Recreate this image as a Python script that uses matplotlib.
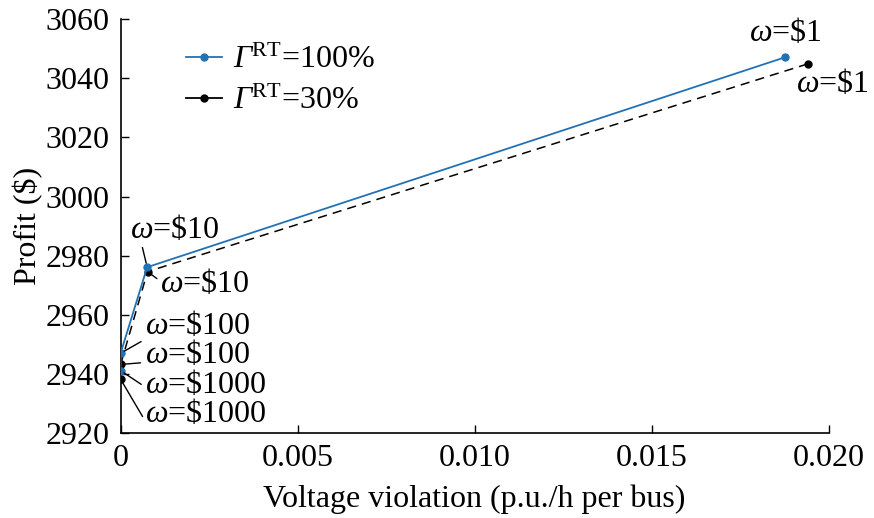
import matplotlib
matplotlib.use("Agg")
import matplotlib.pyplot as plt
from matplotlib.lines import Line2D

plt.rcParams['font.family'] = ['Liberation Serif', 'DejaVu Serif']
# math text: Greek letters italic (Times-like), superscripts upright through \mathsf
plt.rcParams['mathtext.fontset'] = 'custom'
plt.rcParams['mathtext.rm'] = 'Liberation Serif:italic'
plt.rcParams['mathtext.it'] = 'Liberation Serif:italic'
plt.rcParams['mathtext.sf'] = 'Liberation Serif'
plt.rcParams['font.size'] = 23

# data (violation, profit), order: w=1000, 100, 10, 1
viol_100 = [0.0, 0.0, 0.00075, 0.01877]
profit_100 = [2941.1, 2947.0, 2976.1, 3047.1]
viol_30 = [0.0, 0.0, 0.00076, 0.01942]
profit_30 = [2938.2, 2943.2, 2974.6, 3044.9]

omega_labels = [r'$\omega$=\$1000', r'$\omega$=\$100', r'$\omega$=\$10', r'$\omega$=\$1']

# label placement (left edge x, centre y) in data units, and where the leader starts on the text
txt_100 = [(0.00068, 2936.2), (0.00068, 2956.2), (0.00026, 2988.7), (0.01775, 3055.4)]
rel_100 = [(0, 0.45), (0, 0.05), (0.13, 0.05), None]
txt_30 = [(0.00068, 2926.4), (0.00068, 2946.4), (0.00112, 2970.4), (0.01907, 3038.1)]
rel_30 = [(0, 0.3), (0, 0.25), (0, 0.6), None]

xticks = [0, 0.005, 0.010, 0.015, 0.020]
xticklabels = ['0', '0.005', '0.010', '0.015', '0.020']
yticks = [2920, 2940, 2960, 2980, 3000, 3020, 3040, 3060]

blue = '#2271b5'

fig = plt.figure(figsize=(8.74, 5.18), dpi=100)
ax = fig.add_axes([0.138, 0.164, 0.810, 0.799])

ax.plot(viol_100, profit_100, color=blue, lw=1.3, marker='o', ms=5, zorder=3)
ax.plot(viol_30, profit_30, color='k', lw=1.1, ls=(0, (6, 4)), marker='o', ms=5, zorder=2)

def label_points(xs, ys, txts, rels):
    for x, y, lab, (tx, ty), rel in zip(xs, ys, omega_labels, txts, rels):
        if rel is None:
            ax.annotate(lab, xy=(x, y), xytext=(tx, ty), ha='left', va='center')
        else:
            ax.annotate(lab, xy=(x, y), xytext=(tx, ty), ha='left', va='center',
                        arrowprops=dict(arrowstyle='-', color='k', lw=1.0, relpos=rel,
                                        patchA=None, shrinkA=3, shrinkB=3))

label_points(viol_100, profit_100, txt_100, rel_100)
label_points(viol_30, profit_30, txt_30, rel_30)

ax.set_xlim(0, 0.020)
ax.set_ylim(2920, 3060)
ax.set_xticks(xticks)
ax.set_xticklabels(xticklabels)
ax.set_yticks(yticks)
ax.spines['top'].set_visible(False)
ax.spines['right'].set_visible(False)
for s in ['left', 'bottom']:
    ax.spines[s].set_linewidth(1.2)
ax.tick_params(direction='in', length=6, width=1.0, pad=8)

ax.set_xlabel('Voltage violation (p.u./h per bus)', labelpad=8)
ax.set_ylabel(r'Profit (\$)', labelpad=2)

handles = [Line2D([], [], color=blue, lw=1.3, marker='o', ms=5),
           Line2D([], [], color='k', lw=1.3, marker='o', ms=5)]
labels = [r'$\Gamma^{\mathsf{RT}}$=100%', r'$\Gamma^{\mathsf{RT}}$=30%']
ax.legend(handles, labels, loc='upper left', bbox_to_anchor=(0.093, 0.935), frameon=False,
          handlelength=1.1, handletextpad=0.35, labelspacing=0.35, borderpad=0, borderaxespad=0)

fig.savefig('out.png', dpi=100)
